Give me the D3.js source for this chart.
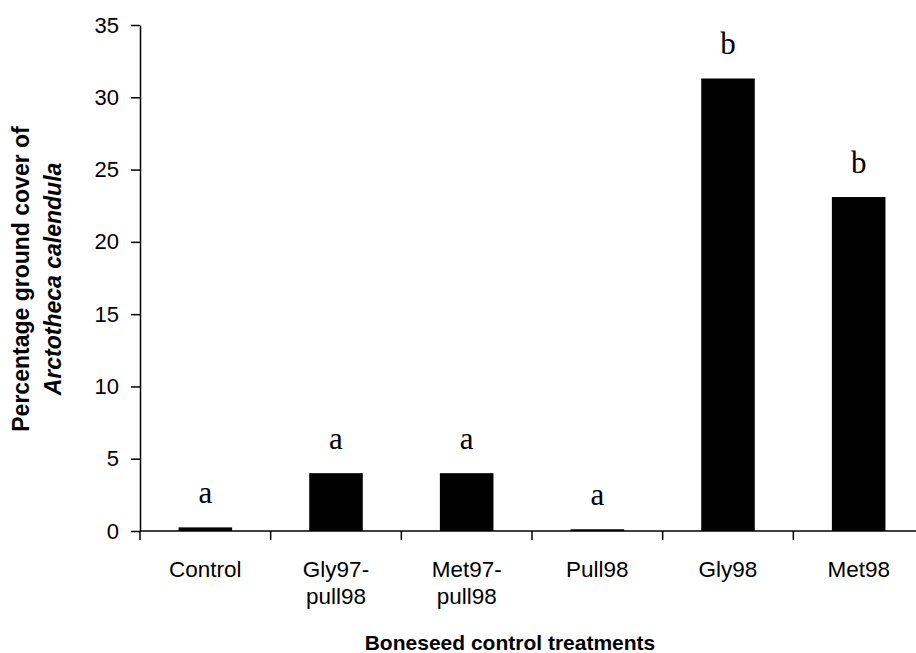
<!DOCTYPE html>
<html>
<head>
<meta charset="utf-8">
<script src="https://cdn.jsdelivr.net/npm/d3@7"></script>
<style>
  html, body { margin: 0; padding: 0; background: #fff; }
  svg { display: block; }
</style>
</head>
<body>
<svg id="chart" width="916" height="653"></svg>
<script>
// Boneseed control treatments vs. percentage ground cover of Arctotheca calendula
const categories = ["Control", "Gly97-pull98", "Met97-pull98", "Pull98", "Gly98", "Met98"];
const coverValues = [0.25, 4.0, 4.0, 0.12, 31.3, 23.1];
const groupLetters = ["a", "a", "a", "a", "b", "b"];
const yTickValues = [0, 5, 10, 15, 20, 25, 30, 35];

const svg = d3.select("#chart");
const sans = "'Liberation Sans', Arial, sans-serif";
const serif = "'Liberation Serif', 'Times New Roman', serif";

const plot = { left: 140, right: 924, top: 25, bottom: 531 };

const x = d3.scaleBand().domain(categories).range([plot.left, plot.right]).padding(0);
const y = d3.scaleLinear().domain([0, 35]).range([plot.bottom, plot.top]);
const barW = x.bandwidth() * 0.41;

// Bars
svg.append("g").selectAll("rect")
  .data(categories)
  .join("rect")
  .attr("x", (d) => x(d) + (x.bandwidth() - barW) / 2)
  .attr("width", barW)
  .attr("y", (d, i) => y(coverValues[i]))
  .attr("height", (d, i) => y(0) - y(coverValues[i]))
  .attr("fill", "#000");

// Significance letters above bars
svg.append("g").selectAll("text")
  .data(categories)
  .join("text")
  .attr("x", (d) => x(d) + x.bandwidth() / 2)
  .attr("y", (d, i) => y(coverValues[i]) - 24)
  .attr("text-anchor", "middle")
  .attr("font-family", serif)
  .attr("font-size", 31)
  .attr("fill", "#000")
  .text((d, i) => groupLetters[i]);

// Y axis
const yAxis = svg.append("g")
  .attr("transform", `translate(${plot.left},0)`)
  .call(d3.axisLeft(y).tickValues(yTickValues).tickSize(9).tickSizeOuter(0).tickPadding(12));
yAxis.select(".domain").attr("stroke", "#000").attr("stroke-width", 1.5);
yAxis.selectAll(".tick line").attr("stroke", "#000").attr("stroke-width", 1.5);
yAxis.selectAll(".tick text")
  .attr("font-family", sans)
  .attr("font-size", 22)
  .attr("fill", "#000");

// X axis: baseline with ticks at category boundaries
const xAxis = svg.append("g").attr("transform", `translate(0,${plot.bottom})`);
xAxis.append("line")
  .attr("x1", plot.left).attr("x2", plot.right)
  .attr("stroke", "#000").attr("stroke-width", 1.5);
const boundaries = categories.map((c) => x(c)).concat([x(categories[categories.length - 1]) + x.bandwidth()]);
xAxis.selectAll("line.tick")
  .data(boundaries)
  .join("line")
  .attr("class", "tick")
  .attr("x1", (d) => d).attr("x2", (d) => d)
  .attr("y1", 0).attr("y2", 9)
  .attr("stroke", "#000").attr("stroke-width", 1.5);

// Category labels (wrapped after the hyphen)
const labels = xAxis.selectAll("text.cat")
  .data(categories)
  .join("text")
  .attr("class", "cat")
  .attr("text-anchor", "middle")
  .attr("font-family", sans)
  .attr("font-size", 22.5)
  .attr("fill", "#000");
labels.each(function (d) {
  const parts = d.includes("-") ? [d.slice(0, d.indexOf("-") + 1), d.slice(d.indexOf("-") + 1)] : [d];
  const t = d3.select(this);
  parts.forEach((p, i) => {
    t.append("tspan")
      .attr("x", x(d) + x.bandwidth() / 2)
      .attr("y", 46 + i * 27)
      .text(p);
  });
});

// Axis titles
svg.append("text")
  .attr("x", 510)
  .attr("y", 650)
  .attr("text-anchor", "middle")
  .attr("font-family", sans)
  .attr("font-weight", "bold")
  .attr("font-size", 21)
  .attr("fill", "#000")
  .text("Boneseed control treatments");

const yTitle = svg.append("text")
  .attr("transform", "translate(0,279) rotate(-90)")
  .attr("text-anchor", "middle")
  .attr("font-family", sans)
  .attr("font-weight", "bold")
  .attr("font-size", 23)
  .attr("fill", "#000");
yTitle.append("tspan").attr("x", 0).attr("y", 29).text("Percentage ground cover of");
yTitle.append("tspan").attr("x", 0).attr("y", 61).attr("font-style", "italic").text("Arctotheca calendula");
</script>
</body>
</html>
